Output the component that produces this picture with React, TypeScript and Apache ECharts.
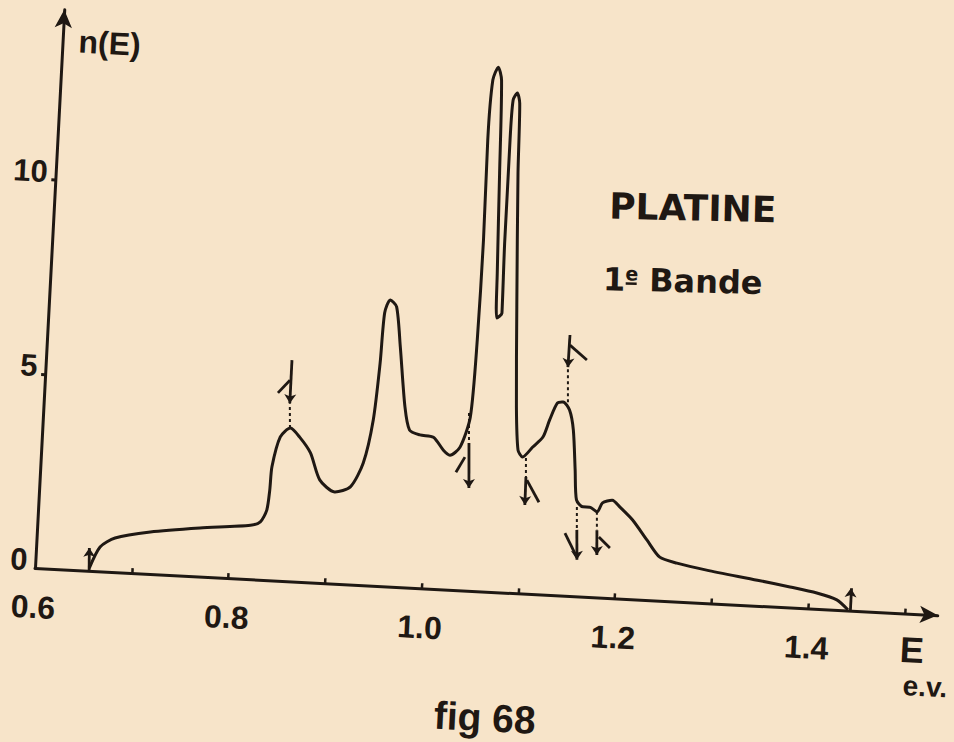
import React, { useEffect, useRef } from "react";
import * as echarts from "echarts";

// Density of states n(E) for platinum, first band
const curveE = [
  0.656, 0.666, 0.681, 0.717, 0.768, 0.82, 0.83, 0.836, 0.838, 0.839, 0.846, 0.856,
  0.866, 0.878, 0.889, 0.905, 0.921, 0.933, 0.941, 0.945, 0.947, 0.952, 0.959, 0.965,
  0.973, 0.979, 0.99, 1.004, 1.015, 1.022, 1.032, 1.041, 1.044, 1.045, 1.044, 1.046,
  1.051, 1.055, 1.058, 1.061, 1.063, 1.068, 1.067, 1.067, 1.068, 1.072, 1.075, 1.077,
  1.083, 1.088, 1.092, 1.097, 1.107, 1.117, 1.123, 1.13, 1.136, 1.143, 1.148, 1.152,
  1.155, 1.162, 1.169, 1.177, 1.182, 1.192, 1.2, 1.214, 1.23, 1.244, 1.262, 1.293,
  1.346, 1.38, 1.408, 1.429, 1.441,
];
const curveN = [
  0.07, 0.63, 0.88, 1.08, 1.25, 1.39, 1.49, 1.8, 2.32, 2.92, 3.7, 3.94,
  3.72, 3.33, 2.65, 2.36, 2.51, 3.14, 4.26, 5.73, 7.03, 7.37, 7.2, 6.17,
  4.64, 4.05, 3.94, 3.9, 3.58, 3.46, 3.68, 4.47, 6.46, 9.03, 11.61, 13.16,
  13.5, 13.17, 10.78, 8.2, 7.05, 7.18, 9.06, 11.64, 12.67, 12.86, 12.6, 10.8,
  7.36, 4.79, 3.68, 3.51, 3.78, 4.05, 4.5, 4.94, 4.98, 4.78, 4.27, 3.25,
  2.48, 2.31, 2.31, 2.2, 2.44, 2.52, 2.36, 2.04, 1.54, 1.12, 0.99, 0.85,
  0.66, 0.53, 0.41, 0.26, 0.02,
];

// Axis ranges and ticks
const X_MIN = 0.6;
const X_MAX = 1.534;
const Y_MIN = 0;
const Y_MAX = 14.39;
const xTickValues = [0.7, 0.8, 0.9, 1.0, 1.1, 1.2, 1.3, 1.4, 1.5];
const xLabelValues = [0.6, 0.8, 1.0, 1.2, 1.4];
const yTickValues = [5, 10];
const yLabelValues = [0, 5, 10];

// Singularity markers, each segment [E1, n1, E2, n2]
const markerDashes = [
  [0.8555, 3.94, 0.854, 4.58],
  [1.0394, 4.57, 1.041, 3.8],
  [1.1006, 3.49, 1.1016, 3.0],
  [1.1409, 4.98, 1.139, 5.88],
  [1.1558, 2.3, 1.157, 1.71],
  [1.1767, 2.2, 1.1777, 1.73],
];
const markerStems = [
  [0.656, 0.0, 0.655, 0.59],
  [0.8539, 5.69, 0.854, 4.58],
  [1.041, 3.8, 1.0434, 2.64],
  [1.1016, 3.0, 1.102, 2.28],
  [1.1394, 6.71, 1.139, 5.88],
  [1.157, 1.71, 1.1587, 0.94],
  [1.1777, 1.73, 1.179, 1.09],
  [1.443, 0.02, 1.443, 0.58],
];
const markerFlags = [
  [0.8529, 5.17, 0.8412, 4.83],
  [1.0376, 3.43, 1.0291, 3.03],
  [1.1028, 2.92, 1.1164, 2.37],
  [1.1399, 6.45, 1.1582, 6.09],
  [1.1449, 1.61, 1.1584, 1.01],
  [1.1801, 1.556, 1.1921, 1.29],
];

const titleText = "PLATINE";
const axisNameY = "n(E)";
const axisNameX = "E";
const unitText = "e.v.";
const captionText = "fig 68";

// chart canvas is shifted left so the y labels are not clipped
const SHIFT = 30;

export default function App() {
  const ref = useRef<HTMLDivElement>(null);

  useEffect(() => {
    if (!ref.current) return;
    const chart = echarts.init(ref.current, null, { renderer: "svg" });
    const ink = "#1f1813";
    const numFont = "Liberation Sans";
    const wordFont = "DejaVu Sans";

    const curveData = curveE.map((e, i) => [e, curveN[i]]);

    const seg = (s: number[], opts: any, endSymbol: string) => [
      { coord: [s[0], s[1]], symbol: "none", lineStyle: opts },
      { coord: [s[2], s[3]], symbol: endSymbol, symbolSize: 9 },
    ];
    const dashStyle = { color: ink, width: 2, type: [3, 3] };
    const solidStyle = { color: ink, width: 2.8, type: "solid" };

    const markData = [
      ...markerDashes.map((s) => seg(s, dashStyle, "none")),
      ...markerStems.map((s) => seg(s, solidStyle, "arrow")),
      ...markerFlags.map((s) => seg(s, solidStyle, "none")),
    ];

    const labelStyle = {
      color: ink,
      fontFamily: numFont,
      fontWeight: "bold",
      fontSize: 32,
    };

    chart.setOption({
      animation: false,
      grid: {
        left: 35 + SHIFT,
        top: 9,
        width: 904,
        height: 559,
        containLabel: false,
        outerBoundsMode: "none",
      },
      xAxis: {
        type: "value",
        min: X_MIN,
        max: X_MAX,
        splitLine: { show: false },
        axisLine: {
          show: true,
          onZero: false,
          symbol: ["none", "arrow"],
          symbolSize: [13, 18],
          lineStyle: { color: ink, width: 3 },
        },
        axisTick: {
          show: true,
          customValues: xTickValues,
          inside: true,
          length: 5,
          lineStyle: { color: ink, width: 2.5 },
        },
        axisLabel: {
          ...labelStyle,
          customValues: xLabelValues,
          margin: 23,
          formatter: (v: number) => v.toFixed(1),
        },
      },
      yAxis: {
        type: "value",
        min: Y_MIN,
        max: Y_MAX,
        splitLine: { show: false },
        axisLine: {
          show: true,
          onZero: false,
          symbol: ["none", "arrow"],
          symbolSize: [13, 18],
          lineStyle: { color: ink, width: 3 },
        },
        axisTick: {
          show: true,
          customValues: yTickValues,
          length: 4,
          lineStyle: { color: ink, width: 3 },
        },
        axisLabel: {
          ...labelStyle,
          fontSize: 31,
          customValues: yLabelValues,
          margin: 8,
          verticalAlign: "bottom",
          lineHeight: 16,
          formatter: (v: number) => String(v),
        },
      },
      series: [
        {
          type: "line",
          data: curveData,
          smooth: 0.25,
          symbol: "none",
          silent: true,
          lineStyle: { color: ink, width: 3 },
          markLine: {
            silent: true,
            animation: false,
            symbol: "none",
            label: { show: false },
            emphasis: { disabled: true },
            lineStyle: { color: ink, width: 2.5 },
            data: markData,
          },
        },
      ],
      graphic: [
        {
          type: "text",
          x: 51 + SHIFT,
          y: 40,
          style: {
            text: axisNameY,
            fill: ink,
            fontFamily: numFont,
            fontWeight: "bold",
            fontSize: 32,
            align: "left",
            verticalAlign: "middle",
          },
        },
        {
          type: "text",
          x: 673 + SHIFT,
          y: 174,
          rotation: 0.03,
          style: {
            text: titleText,
            fill: ink,
            fontFamily: wordFont,
            fontWeight: "bold",
            fontSize: 36,
            align: "center",
            verticalAlign: "middle",
          },
        },
        {
          type: "text",
          x: 587 + SHIFT,
          y: 250,
          rotation: 0.03,
          style: {
            text: "{a|1}{b|e}{a| Bande}",
            fill: ink,
            align: "left",
            verticalAlign: "middle",
            rich: {
              a: { fill: ink, color: ink, fontFamily: wordFont, fontWeight: "bold", fontSize: 32 },
              b: { fill: ink, color: ink, fontFamily: wordFont, fontWeight: "bold", fontSize: 19, verticalAlign: "top" },
            },
          },
        },
        {
          type: "line",
          x: 610 + SHIFT,
          y: 253,
          rotation: 0.03,
          shape: { x1: 0, y1: 0, x2: 11, y2: 0 },
          style: { stroke: ink, lineWidth: 2.5 },
        },
        {
          type: "text",
          x: 915 + SHIFT,
          y: 604,
          style: {
            text: axisNameX,
            fill: ink,
            fontFamily: numFont,
            fontWeight: "bold",
            fontSize: 36,
            align: "center",
            verticalAlign: "middle",
          },
        },
        {
          type: "text",
          x: 930 + SHIFT,
          y: 640,
          style: {
            text: unitText,
            fill: ink,
            fontFamily: numFont,
            fontWeight: "bold",
            fontSize: 28,
            align: "center",
            verticalAlign: "middle",
          },
        },
        {
          type: "text",
          x: 492 + SHIFT,
          y: 694,
          style: {
            text: captionText,
            fill: ink,
            fontFamily: numFont,
            fontWeight: "bold",
            fontSize: 39,
            align: "center",
            verticalAlign: "middle",
          },
        },
      ],
    });

    return () => {
      chart.dispose();
    };
  }, []);

  return (
    <div
      style={{
        position: "fixed",
        left: 0,
        top: 0,
        width: 954,
        height: 742,
        background: "#f7e4c9",
        overflow: "hidden",
      }}
    >
      <div
        ref={ref}
        style={{
          position: "absolute",
          left: -SHIFT,
          top: 0,
          width: 1000,
          height: 742,
          transform: "rotate(3deg)",
          transformOrigin: `${35 + SHIFT}px 568px`,
        }}
      />
    </div>
  );
}
